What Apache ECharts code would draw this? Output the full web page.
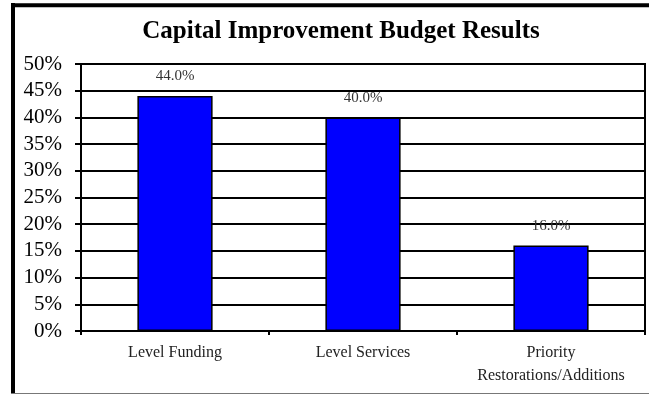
<!DOCTYPE html>
<html>
<head>
<meta charset="utf-8">
<script src="https://cdn.jsdelivr.net/npm/echarts@6/dist/echarts.min.js"></script>
<style>
  html, body { margin: 0; padding: 0; background: #fff; }
  #chart { width: 649px; height: 395px; }
</style>
</head>
<body>
<div id="chart"></div>
<script>
// Budget options and their share of the vote (percent)
const categories = ['Level Funding', 'Level Services', 'Priority\nRestorations/Additions'];
const shares = [44.0, 40.0, 16.0];
const yTicks = { min: 0, max: 50, step: 5 };

const serif = '"Liberation Serif", "Times New Roman", serif';

const chart = echarts.init(document.getElementById('chart'), null, { renderer: 'canvas' });

chart.setOption({
  backgroundColor: '#ffffff',
  animation: false,
  title: {
    text: 'Capital Improvement Budget Results',
    left: 336,
    top: 14,
    textAlign: 'center',
    textStyle: { fontFamily: serif, fontWeight: 'bold', fontSize: 25, color: '#000' }
  },
  grid: {
    left: 81, right: 4, top: 64, bottom: 64,
    show: true, borderColor: '#000', borderWidth: 2, backgroundColor: 'transparent'
  },
  xAxis: {
    type: 'category',
    data: categories,
    axisLine: { lineStyle: { color: '#000', width: 2 } },
    axisTick: { show: true, interval: 0, length: 4, lineStyle: { color: '#000', width: 2 } },
    axisLabel: {
      interval: 0, hideOverlap: false,
      fontFamily: serif, fontSize: 16, color: '#222', margin: 10, lineHeight: 23
    }
  },
  yAxis: {
    type: 'value',
    min: yTicks.min, max: yTicks.max, interval: yTicks.step,
    axisLine: { show: true, lineStyle: { color: '#000', width: 2 } },
    axisTick: { show: true, length: 6, lineStyle: { color: '#000', width: 2 } },
    axisLabel: {
      formatter: '{value}%', fontFamily: serif, fontSize: 21, color: '#000', margin: 19
    },
    splitLine: { show: true, lineStyle: { color: '#000', width: 2 } }
  },
  series: [{
    type: 'bar',
    data: shares,
    barWidth: '40%',
    itemStyle: { color: '#0000ff', borderColor: '#000', borderWidth: 1.5 },
    label: {
      show: true, position: 'top', distance: 12,
      formatter: p => p.value.toFixed(1) + '%',
      fontFamily: serif, fontSize: 15, color: '#333'
    }
  }],
  graphic: [
    // chart frame: heavy left and top edges, light bottom edge
    { type: 'line', shape: { x1: 13, y1: 3, x2: 13, y2: 394 }, style: { stroke: '#000', lineWidth: 4 }, silent: true },
    { type: 'line', shape: { x1: 11, y1: 5.3, x2: 649, y2: 5.3 }, style: { stroke: '#000', lineWidth: 4 }, silent: true },
    { type: 'line', shape: { x1: 11, y1: 393.5, x2: 649, y2: 393.5 }, style: { stroke: '#777', lineWidth: 1 }, silent: true }
  ]
});
</script>
</body>
</html>
